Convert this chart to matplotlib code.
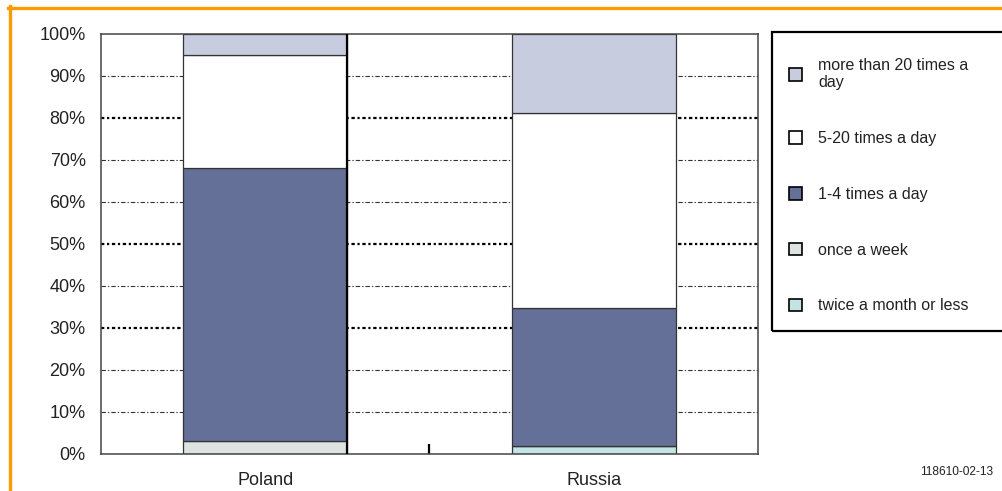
import matplotlib
matplotlib.use("Agg")
import matplotlib.pyplot as plt
from matplotlib.ticker import PercentFormatter, FixedLocator
from matplotlib.patches import Rectangle
from matplotlib.lines import Line2D
import numpy as np

plt.rcParams['font.family'] = ['Liberation Sans', 'DejaVu Sans']

# ---- data ----
countries = ["Poland", "Russia"]
series_labels = ["twice a month or less", "once a week", "1-4 times a day",
                 "5-20 times a day", "more than 20 times a day"]
twice_month = [0.0, 2.0]
once_week = [3.0, 0.0]
one_to_four = [65.0, 32.8]
five_to_twenty = [27.0, 46.4]
more_than_20 = [5.0, 18.8]
series_values = [twice_month, once_week, one_to_four, five_to_twenty, more_than_20]
series_colors = ["#C3E4E2", "#DCE3E0", "#657099", "#FFFFFF", "#C8CCDF"]
y_ticks = [0, 10, 20, 30, 40, 50, 60, 70, 80, 90, 100]
footer = "118610-02-13"

W, H = 1003, 491
fig = plt.figure(figsize=(W / 100, H / 100), dpi=100)
ax = fig.add_axes([101 / W, (H - 454) / H, 657 / W, 420 / H])

x = np.arange(len(countries))
bottom = np.zeros(len(countries))
containers = []
for lab, vals, col in zip(series_labels, series_values, series_colors):
    vals = np.array(vals, dtype=float)
    bc = ax.bar(x, vals, 0.5, bottom=bottom, color=col, edgecolor="#333333",
                linewidth=0.9, label=lab, zorder=3)
    containers.append(bc)
    bottom += vals

ax.set_xlim(-0.5, len(countries) - 0.5)
ax.set_ylim(0, 100)
ax.set_xticks(x)
ax.set_xticklabels(countries)
ax.yaxis.set_major_locator(FixedLocator(y_ticks))
ax.yaxis.set_major_formatter(PercentFormatter(100, decimals=0))
ax.tick_params(axis="both", which="major", length=0, labelsize=13, colors="#222222")
ax.tick_params(axis="y", pad=11)
ax.tick_params(axis="x", pad=13)
ax.set_xticks([0.5], minor=True)
ax.tick_params(axis="x", which="minor", direction="in", length=7, width=1.6, color="black")

for s in ax.spines.values():
    s.set_color("#444444")
    s.set_linewidth(1.1)
    s.set_zorder(4)

# grid lines (alternate weights as in the reference)
ax.grid(axis="y", zorder=1)
bold_vals = {30, 50, 80}
for tick_val, gl in zip(y_ticks, ax.yaxis.get_gridlines()):
    if tick_val in (0, 100):
        gl.set_visible(False)
        continue
    if tick_val in bold_vals:
        gl.set_color("black")
        gl.set_linewidth(1.6)
        gl.set_dashes((1.5, 1.2, 1.0, 1.2))
    else:
        gl.set_color("#333333")
        gl.set_linewidth(0.8)
        gl.set_dashes((4.0, 1.8, 1.2, 1.8))

# dark vertical edge on right side of the first bar
first_bar = containers[0].patches[0]
ax.axvline(first_bar.get_x() + first_bar.get_width(), color="black", lw=1.6, zorder=5)

# legend (reverse order, top = highest series)
hs = [Rectangle((0, 0), 1, 1, facecolor=c, edgecolor="black", linewidth=1.2)
      for c in series_colors][::-1]
labs = ["more than 20 times a\nday" if l == "more than 20 times a day" else l
        for l in series_labels][::-1]
fig.legend(hs, labs, loc="upper left", bbox_to_anchor=(789 / W, (H - 58) / H),
           frameon=False, fontsize=11.5, handlelength=0.82, handleheight=0.82,
           handletextpad=1.0, labelspacing=2.55, borderpad=0, borderaxespad=0,
           labelcolor="#222222")
fig.patches.append(Rectangle((772 / W, (H - 331) / H), 240 / W, 299 / H,
                             transform=fig.transFigure, fill=False,
                             edgecolor="black", linewidth=1.6))

# orange frame
fig.lines.append(Line2D([8 / W, 1], [(H - 7.5) / H] * 2, transform=fig.transFigure,
                        color="#FF9900", linewidth=2.4))
fig.lines.append(Line2D([10 / W] * 2, [0, (H - 6) / H], transform=fig.transFigure,
                        color="#FF9900", linewidth=2.4))

fig.text(993 / W, (H - 472) / H, footer, ha="right", va="center", fontsize=8.6,
         color="#222222")

fig.savefig("out.png", dpi=100)
